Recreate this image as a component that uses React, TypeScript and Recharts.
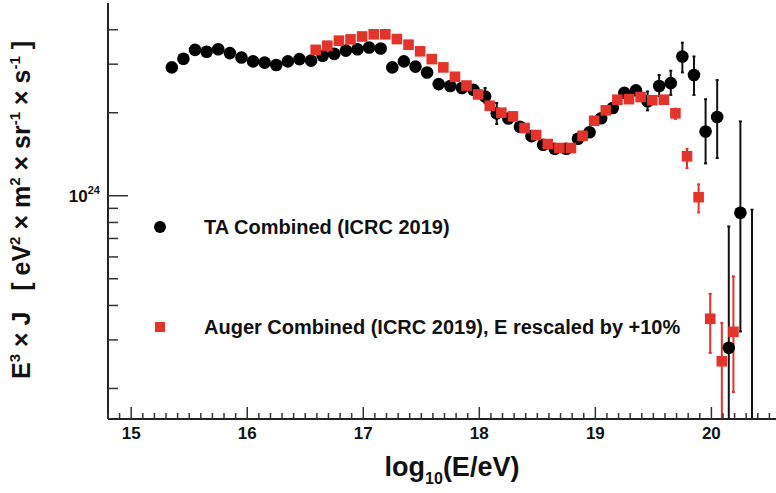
import React from 'react';
import { ScatterChart, Scatter, XAxis, YAxis, ErrorBar, Legend } from 'recharts';

// E^3 x J in units of 1e24 eV^2 m^-2 sr^-1 s^-1, x = log10(E/eV)
const taLogE = [
  15.35, 15.45, 15.55, 15.65, 15.75, 15.85, 15.95, 16.05, 16.15, 16.25,
  16.35, 16.45, 16.55, 16.65, 16.75, 16.85, 16.95, 17.05, 17.15, 17.25,
  17.35, 17.45, 17.55, 17.65, 17.75, 17.85, 17.95, 18.05, 18.15, 18.25,
  18.35, 18.45, 18.55, 18.65, 18.75, 18.85, 18.95, 19.05, 19.15, 19.25,
  19.35, 19.45, 19.55, 19.65, 19.75, 19.85, 19.95, 20.05, 20.15, 20.25,
  20.35,
];
const taFlux = [
  2.92, 3.14, 3.38, 3.33, 3.4, 3.29, 3.17, 3.07, 3.04, 2.98,
  3.07, 3.13, 3.09, 3.22, 3.27, 3.36, 3.4, 3.45, 3.42, 2.92,
  3.07, 2.94, 2.8, 2.54, 2.5, 2.46, 2.42, 2.29, 1.99, 1.905,
  1.78, 1.645, 1.53, 1.48, 1.48, 1.61, 1.7, 1.91, 2.08, 2.36,
  2.41, 2.2, 2.5, 2.56, 3.2, 2.74, 1.71, 1.93, 0.281, 0.868,
  0.1,
];
// error bar ends for the TA points that show one
const taErrLogE = [18.05, 18.15, 19.45, 19.55, 19.65, 19.75, 19.85, 19.95, 20.05, 20.15, 20.25, 20.35];
const taErrLow = [2.17, 1.82, 2.04, 2.3, 2.32, 2.8, 2.32, 1.31, 1.37, 0.05, 0.322, 0.05];
const taErrHigh = [2.46, 2.17, 2.39, 2.74, 2.84, 3.59, 3.2, 2.24, 2.63, 0.774, 1.86, 0.89];

const augerLogE = [
  16.59, 16.69, 16.79, 16.89, 16.99, 17.09, 17.19, 17.29, 17.39, 17.49,
  17.59, 17.69, 17.79, 17.89, 17.99, 18.09, 18.19, 18.29, 18.39, 18.49,
  18.59, 18.69, 18.79, 18.89, 18.99, 19.09, 19.19, 19.29, 19.39, 19.49,
  19.59, 19.69, 19.79, 19.89, 19.99, 20.09, 20.19,
];
const augerFlux = [
  3.38, 3.5, 3.65, 3.69, 3.78, 3.85, 3.85, 3.7, 3.53, 3.34,
  3.13, 2.92, 2.7, 2.51, 2.33, 2.12, 2.0, 1.94, 1.76, 1.66,
  1.54, 1.49, 1.49, 1.65, 1.87, 2.04, 2.23, 2.24, 2.28, 2.22,
  2.23, 1.99, 1.39, 0.988, 0.358, 0.251, 0.321,
];
const augerErrLogE = [19.69, 19.79, 19.89, 19.99, 20.09, 20.19];
const augerErrLow = [1.9, 1.26, 0.87, 0.269, 0.05, 0.194];
const augerErrHigh = [2.07, 1.48, 1.1, 0.441, 0.346, 0.51];

const seriesNames = ['TA Combined (ICRC 2019)', 'Auger Combined (ICRC 2019), E rescaled by +10%'];
const xMajorTicks = [15, 16, 17, 18, 19, 20];
const yTicks = [0.2, 0.3, 0.4, 0.5, 0.6, 0.7, 0.8, 0.9, 1, 2, 3, 4];
const yMajorLabel = { value: 1, base: '10', exp: '24' };

const X_DOMAIN = [14.8, 20.6];
const Y_DOMAIN = [0.155, 5];
const FONT = '"Liberation Sans", Arial, Helvetica, sans-serif';
const RED = '#e3342c';
const INK = '#111';

const xTicks: number[] = [];
for (let i = 148; i <= 206; i++) xTicks.push(i / 10);

// error bars are not clipped by the chart, so stop them at the bottom of the frame
function buildSeries(logE: number[], flux: number[], eLogE: number[], lo: number[], hi: number[]) {
  return logE.map((x, i) => {
    const k = eLogE.indexOf(x);
    const y = flux[i];
    const err = k >= 0 ? [y - Math.max(lo[k], Y_DOMAIN[0]), hi[k] - y] : [0, 0];
    return { x, y, err };
  });
}

const taData = buildSeries(taLogE, taFlux, taErrLogE, taErrLow, taErrHigh);
const augerData = buildSeries(augerLogE, augerFlux, augerErrLogE, augerErrLow, augerErrHigh);

const isMajorX = (v: number) => xMajorTicks.some((m) => Math.abs(m - v) < 1e-6);

const BottomTick = (props: any) => {
  const { x, y, payload } = props;
  const major = isMajorX(payload.value);
  return (
    <g>
      <line x1={x} x2={x} y1={y} y2={y - (major ? 12 : 6)} stroke="#333" strokeWidth={1.5} />
      {major && (
        <text x={x} y={y + 20} textAnchor="middle" fontFamily={FONT} fontWeight={700} fontSize={17} fill={INK}>
          {Math.round(payload.value)}
        </text>
      )}
    </g>
  );
};

const TopTick = (props: any) => {
  const { x, y, payload } = props;
  const major = isMajorX(payload.value);
  return <line x1={x} x2={x} y1={y} y2={y + (major ? 13 : 6)} stroke="#333" strokeWidth={1.5} />;
};

const LeftTick = (props: any) => {
  const { x, y, payload } = props;
  const major = payload.value === yMajorLabel.value;
  return (
    <g>
      <line x1={x} x2={x + (major ? 20 : 10)} y1={y} y2={y} stroke="#333" strokeWidth={1.5} />
      {major && (
        <text x={x - 8} y={y + 6} textAnchor="end" fontFamily={FONT} fontWeight={700} fontSize={17} fill={INK}>
          {yMajorLabel.base}
          <tspan dy={-8} fontSize={11}>{yMajorLabel.exp}</tspan>
        </text>
      )}
    </g>
  );
};

const RightTick = (props: any) => {
  const { x, y, payload } = props;
  const major = payload.value === yMajorLabel.value;
  return <line x1={x} x2={x - (major ? 20 : 10)} y1={y} y2={y} stroke="#333" strokeWidth={1.5} />;
};

const YTitle = () => (
  <text
    transform="translate(30, 210) rotate(-90)"
    textAnchor="middle"
    fontFamily={FONT}
    fontWeight={700}
    fontSize={25}
    fill={INK}
    style={{ whiteSpace: 'pre' }}
  >
    E<tspan dy={-10} fontSize={15}>3</tspan>
    <tspan dy={10}>{' \u00d7 J   [ eV'}</tspan>
    <tspan dy={-10} fontSize={15}>2</tspan>
    <tspan dy={10}>{' \u00d7 m'}</tspan>
    <tspan dy={-10} fontSize={15}>2</tspan>
    <tspan dy={10}>{' \u00d7 sr'}</tspan>
    <tspan dy={-10} fontSize={15}>-1</tspan>
    <tspan dy={10}>{' \u00d7 s'}</tspan>
    <tspan dy={-10} fontSize={15}>-1</tspan>
    <tspan dy={10}>{' ]'}</tspan>
  </text>
);

const XTitle = () => (
  <text x={452} y={476} textAnchor="middle" fontFamily={FONT} fontWeight={700} fontSize={27} fill={INK}>
    log<tspan dy={8} fontSize={16}>10</tspan>
    <tspan dy={-8}>(E/eV)</tspan>
  </text>
);

const Dot = (p: any) => <circle cx={p.cx} cy={p.cy} r={6.3} fill="#000" />;
const Square = (p: any) => <rect x={p.cx - 5.3} y={p.cy - 5.3} width={10.6} height={10.6} fill={RED} />;

const renderLegend = () => (
  <div style={{ fontFamily: FONT, fontWeight: 700, fontSize: 20, color: INK }}>
    {seriesNames.map((name, i) => (
      <div key={name} style={{ display: 'flex', alignItems: 'center', height: 24, marginTop: i === 0 ? 0 : 76 }}>
        <div style={{ width: 20, display: 'flex', justifyContent: 'center' }}>
          {i === 0 ? (
            <div style={{ width: 12, height: 12, borderRadius: 6, background: '#000' }} />
          ) : (
            <div style={{ width: 10, height: 10, background: RED }} />
          )}
        </div>
        <span style={{ marginLeft: 34, whiteSpace: 'nowrap' }}>{name}</span>
      </div>
    ))}
  </div>
);

export default function App() {
  return (
    <div style={{ position: 'absolute', left: 0, top: 0, width: 776, height: 493, overflow: 'hidden', background: '#fff' }}>
      <ScatterChart width={790} height={493} margin={{ top: 3, right: 9, bottom: 0, left: 0 }}>
        <XAxis
          xAxisId="b"
          type="number"
          dataKey="x"
          domain={X_DOMAIN}
          ticks={xTicks}
          interval={0}
          tickSize={0}
          tickMargin={0}
          tickLine={false}
          tick={<BottomTick />}
          height={74}
          axisLine={{ stroke: '#222', strokeWidth: 2 }}
          allowDataOverflow
          label={<XTitle />}
        />
        <XAxis
          xAxisId="t"
          orientation="top"
          type="number"
          domain={X_DOMAIN}
          ticks={xTicks}
          interval={0}
          tickSize={0}
          tickMargin={0}
          tickLine={false}
          tick={<TopTick />}
          height={0}
          axisLine={{ stroke: '#222', strokeWidth: 2 }}
          allowDataOverflow
        />
        <YAxis
          yAxisId="l"
          type="number"
          dataKey="y"
          scale="log"
          domain={Y_DOMAIN}
          ticks={yTicks}
          interval={0}
          tickSize={0}
          tickMargin={0}
          tickLine={false}
          tick={<LeftTick />}
          width={108}
          axisLine={{ stroke: '#222', strokeWidth: 2 }}
          allowDataOverflow
          label={<YTitle />}
        />
        <YAxis
          yAxisId="r"
          orientation="right"
          type="number"
          scale="log"
          domain={Y_DOMAIN}
          ticks={yTicks}
          interval={0}
          tickSize={0}
          tickMargin={0}
          tickLine={false}
          tick={<RightTick />}
          width={0}
          axisLine={{ stroke: '#222', strokeWidth: 2 }}
          allowDataOverflow
        />
        <Legend
          layout="horizontal"
          verticalAlign="middle"
          align="center"
          content={renderLegend}
          wrapperStyle={{ left: 150, top: 215, width: 600 }}
        />
        <Scatter name={seriesNames[0]} data={taData} xAxisId="b" yAxisId="l" shape={<Dot />} isAnimationActive={false}>
          <ErrorBar dataKey="err" direction="y" width={1.5} stroke={INK} strokeWidth={2} isAnimationActive={false} />
        </Scatter>
        <Scatter name={seriesNames[1]} data={augerData} xAxisId="b" yAxisId="l" shape={<Square />} isAnimationActive={false}>
          <ErrorBar dataKey="err" direction="y" width={1.5} stroke={RED} strokeWidth={2} isAnimationActive={false} />
        </Scatter>
      </ScatterChart>
    </div>
  );
}
